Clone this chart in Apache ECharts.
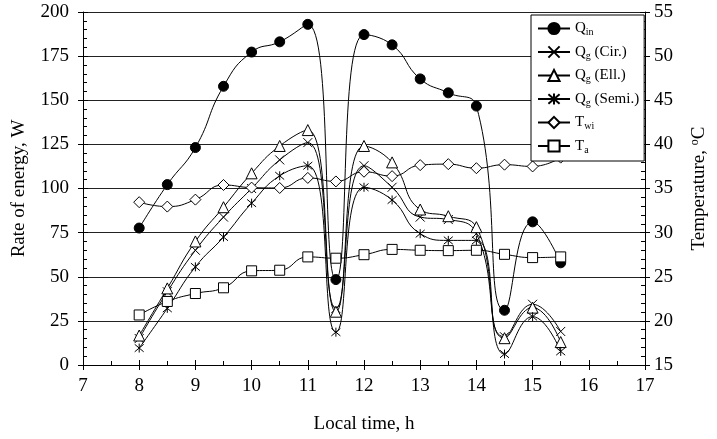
<!DOCTYPE html>
<html>
<head>
<meta charset="utf-8">
<script src="https://cdn.jsdelivr.net/npm/echarts@6/dist/echarts.min.js"></script>
<style>
  html, body { margin: 0; padding: 0; background: #fff; }
  #chart { width: 717px; height: 439px; }
</style>
</head>
<body>
<div id="chart"></div>
<script>
// local time, h
const hours = [8, 8.5, 9, 9.5, 10, 10.5, 11, 11.5, 12, 12.5, 13, 13.5, 14, 14.5, 15, 15.5]
// rate of energy, W
const qIn = [77.6, 102.2, 123.2, 157.9, 177.3, 183.1, 193.0, 48.4, 187.2, 181.4, 162.1, 154.2, 146.7, 31.0, 81.1, 57.9]
const qgCir = [15.0, 41.5, 65.0, 83.8, 100.0, 116.2, 126.0, 32.0, 112.9, 100.7, 83.8, 82.4, 74.4, 16.0, 34.4, 19.0]
const qgEll = [16.7, 43.4, 70.0, 89.4, 108.6, 124.1, 133.1, 30.2, 124.1, 114.8, 88.1, 84.3, 78.1, 15.2, 32.5, 13.0]
const qgSemi = [9.6, 32.1, 55.6, 72.5, 91.7, 107.2, 112.9, 18.6, 100.7, 93.5, 74.4, 70.6, 70.6, 6.2, 27.4, 7.7]
// temperature, oC
const tWi = [33.45, 32.95, 33.74, 35.4, 35.1, 35.06, 36.2, 35.8, 36.9, 36.4, 37.65, 37.76, 37.3, 37.7, 37.5, 38.5]
const tA = [20.67, 22.2, 23.1, 23.75, 25.67, 25.74, 27.25, 27.1, 27.5, 28.1, 28.0, 27.96, 28.0, 27.54, 27.17, 27.25]

const font = 'Liberation Serif'
const pair = arr => arr.map((v, i) => [hours[i], v])

const crossSymbol = 'path://M0,0L10,10M10,0L0,10'
const starSymbol = 'path://M0,0L10,10M10,0L0,10M5,-1L5,11'

function line (name, data, symbol, size, fill, yIdx) {
  return {
    name,
    type: 'line',
    yAxisIndex: yIdx,
    data: pair(data),
    smooth: 0.5,
    symbol,
    symbolSize: size,
    showSymbol: true,
    lineStyle: { color: '#000', width: 1 },
    itemStyle: { color: fill, borderColor: '#000', borderWidth: 1 },
    emphasis: { disabled: true }
  }
}

const chart = echarts.init(document.getElementById('chart'))
chart.setOption({
  animation: false,
  grid: { left: 83, right: 68, top: 12, bottom: 72 },
  legend: {
    orient: 'vertical',
    left: 531,
    top: 15,
    padding: [6, 5, 6, 6],
    itemGap: 7,
    itemWidth: 32,
    itemHeight: 14,
    backgroundColor: '#fff',
    borderColor: '#000',
    borderWidth: 1,
    textStyle: {
      fontFamily: font,
      fontSize: 15,
      color: '#000',
      rich: {
        m: { fontFamily: font, fontSize: 15, color: '#000' },
        s: { fontFamily: font, fontSize: 10, color: '#000', padding: [8, 0, 0, 0] }
      }
    },
    formatter: name => {
      const p = name.match(/^(\w)(\w+)(.*)$/)
      return `{m|${p[1]}}{s|${p[2]}}` + (p[3] ? `{m|${p[3]}}` : '')
    },
    data: ['Qin', 'Qg (Cir.)', 'Qg (Ell.)', 'Qg (Semi.)', 'Twi', 'Ta']
  },
  xAxis: [{
    type: 'value',
    min: 7,
    max: 17,
    interval: 1,
    name: 'Local time, h',
    nameLocation: 'middle',
    nameGap: 50,
    nameTextStyle: { fontFamily: font, fontSize: 19, color: '#000' },
    axisLine: { lineStyle: { color: '#000', width: 1 } },
    axisTick: { inside: true, length: 5, lineStyle: { color: '#000' } },
    minorTick: { show: true, splitNumber: 2, length: 4, lineStyle: { color: '#000' } },
    axisLabel: { margin: 12, fontFamily: font, fontSize: 19, color: '#000' },
    splitLine: { show: false }
  }, {
    type: 'value',
    position: 'bottom',
    min: 7,
    max: 17,
    interval: 1,
    axisLine: { show: false },
    axisTick: { inside: false, length: 5, lineStyle: { color: '#000' } },
    axisLabel: { show: false },
    splitLine: { show: false }
  }],
  yAxis: [{
    type: 'value',
    position: 'left',
    min: 0,
    max: 200,
    interval: 25,
    name: 'Rate of energy, W',
    nameLocation: 'middle',
    nameGap: 54,
    nameTextStyle: { fontFamily: font, fontSize: 19, color: '#000' },
    axisLine: { show: true, lineStyle: { color: '#000', width: 1 } },
    axisTick: { show: true, inside: true, length: 5, lineStyle: { color: '#000' } },
    minorTick: { show: true, splitNumber: 5, length: 4, lineStyle: { color: '#000' } },
    axisLabel: { margin: 14, fontFamily: font, fontSize: 19, color: '#000' },
    splitLine: { show: true, lineStyle: { color: '#222', width: 1 } }
  }, {
    type: 'value',
    position: 'right',
    min: 15,
    max: 55,
    interval: 5,
    name: 'Temperature, {sup|o}C',
    nameLocation: 'middle',
    nameGap: 44,
    nameRotate: 90,
    nameTextStyle: {
      fontFamily: font,
      fontSize: 19,
      color: '#000',
      rich: { sup: { fontFamily: font, fontSize: 12, color: '#000', padding: [0, 0, 9, 0] } }
    },
    axisLine: { show: true, lineStyle: { color: '#000', width: 1 } },
    axisTick: { show: true, inside: true, length: 5, lineStyle: { color: '#000' } },
    minorTick: { show: true, splitNumber: 5, length: 4, lineStyle: { color: '#000' } },
    axisLabel: { margin: 9, fontFamily: font, fontSize: 19, color: '#000' },
    splitLine: { show: false }
  }, {
    type: 'value',
    position: 'left',
    min: 0,
    max: 200,
    interval: 25,
    axisLine: { show: false },
    axisTick: { show: true, inside: false, length: 5, lineStyle: { color: '#000' } },
    axisLabel: { show: false },
    splitLine: { show: false }
  }, {
    type: 'value',
    position: 'right',
    min: 15,
    max: 55,
    interval: 5,
    axisLine: { show: false },
    axisTick: { show: true, inside: false, length: 5, lineStyle: { color: '#000' } },
    axisLabel: { show: false },
    splitLine: { show: false }
  }],
  series: [
    line('Qin', qIn, 'circle', 10, '#000', 0),
    line('Qg (Cir.)', qgCir, crossSymbol, 9, '#fff', 0),
    line('Qg (Ell.)', qgEll, 'triangle', 11, '#fff', 0),
    line('Qg (Semi.)', qgSemi, starSymbol, 9, '#fff', 0),
    line('Twi', tWi, 'diamond', 11, '#fff', 1),
    line('Ta', tA, 'rect', 10, '#fff', 1)
  ]
})
</script>
</body>
</html>
